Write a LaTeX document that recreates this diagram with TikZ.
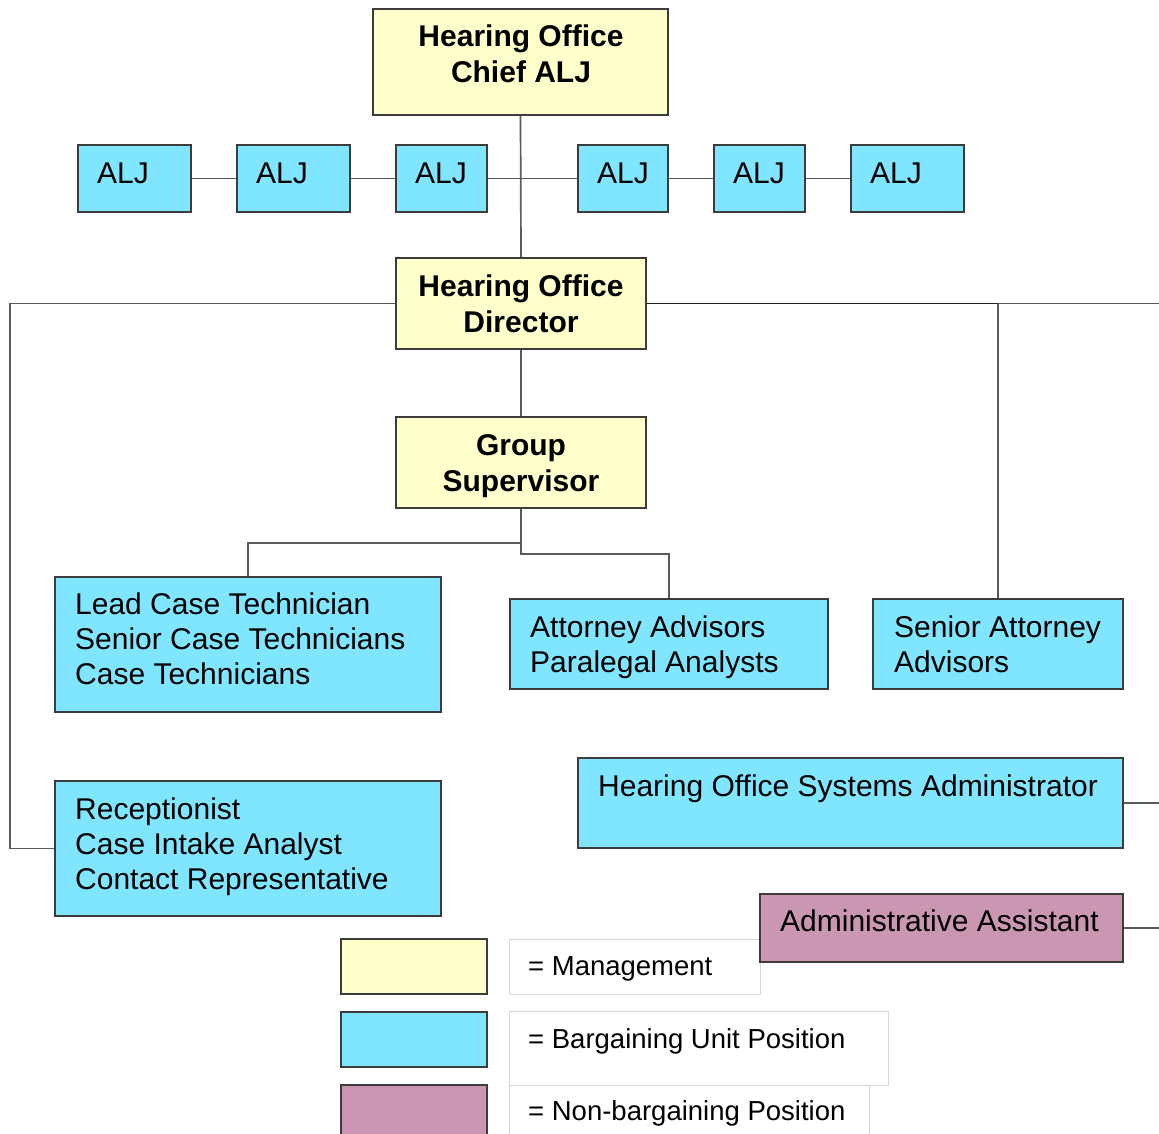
\documentclass[tikz,border=0pt]{standalone}
\usepackage{fontspec}
\setmainfont{Liberation Sans}
\definecolor{mgmtfill}{RGB}{255,255,204}
\definecolor{bufill}{RGB}{128,229,255}
\definecolor{nbfill}{RGB}{202,150,178}
\definecolor{boxline}{RGB}{60,60,60}
\definecolor{conngray}{RGB}{90,90,90}
\definecolor{conndarkc}{RGB}{30,30,30}
\definecolor{legline}{RGB}{215,215,215}
\newcommand{\mystrut}{\rule{0pt}{24pt}}
\begin{document}
\begin{tikzpicture}[x=1pt,y=-1pt,
  box/.style={draw=boxline, line width=1.6pt, inner sep=0pt},
  mgmt/.style={box, fill=mgmtfill},
  bu/.style={box, fill=bufill},
  nb/.style={box, fill=nbfill},
  legbox/.style={draw=legline, line width=1pt, fill=white, inner sep=0pt},
  conn/.style={draw=conngray, line width=1.7pt},
  conndark/.style={draw=conndarkc, line width=1.8pt},
  btxt/.style={inner sep=0pt, anchor=north, align=center, font=\fontsize{30}{36}\selectfont\bfseries},
  ntxt/.style={inner sep=0pt, anchor=north west, align=left, font=\fontsize{30}{35}\selectfont},
  ltxt/.style={inner sep=0pt, anchor=north west, align=left, font=\fontsize{27.5}{33}\selectfont}
]
\clip (0,0) rectangle (1159,1134);
\fill[white] (0,0) rectangle (1159,1134);

% legend text boxes (behind)
\node[legbox, minimum width=251pt, minimum height=55pt] (mgmtT) at (634.5,966.5) {};
\node[legbox, minimum width=379pt, minimum height=74pt] (bargT) at (698.5,1048) {};
\node[legbox, minimum width=360pt, minimum height=65pt] (nonT) at (689,1117.5) {};

% boxes
\node[mgmt, minimum width=295pt, minimum height=106pt] (chief) at (520.5,62) {};
\node[bu, minimum width=113pt, minimum height=67pt] (alj1) at (134.5,178.5) {};
\node[bu, minimum width=113pt, minimum height=67pt] (alj2) at (293.5,178.5) {};
\node[bu, minimum width=91pt, minimum height=67pt] (alj3) at (441.5,178.5) {};
\node[bu, minimum width=90pt, minimum height=67pt] (alj4) at (623,178.5) {};
\node[bu, minimum width=91pt, minimum height=67pt] (alj5) at (759.5,178.5) {};
\node[bu, minimum width=113pt, minimum height=67pt] (alj6) at (907.5,178.5) {};
\node[mgmt, minimum width=250pt, minimum height=91pt] (dir) at (521,303.5) {};
\node[mgmt, minimum width=250pt, minimum height=91pt] (gs) at (521,462.5) {};
\node[bu, minimum width=386pt, minimum height=135pt] (lead) at (248,644.5) {};
\node[bu, minimum width=318pt, minimum height=90pt] (att) at (669,644) {};
\node[bu, minimum width=250pt, minimum height=90pt] (sen) at (998,644) {};
\node[bu, minimum width=545pt, minimum height=90pt] (hosa) at (850.5,803) {};
\node[bu, minimum width=386pt, minimum height=135pt] (rec) at (248,848.5) {};
\node[nb, minimum width=363pt, minimum height=68pt] (adm) at (941.5,928) {};

% legend swatches
\node[mgmt, minimum width=146pt, minimum height=55pt] (legY) at (414,966.5) {};
\node[bu, minimum width=146pt, minimum height=55pt] (legB) at (414,1039.5) {};
\node[nb, minimum width=146pt, minimum height=60pt] (legP) at (414,1115) {};

% texts
\node[btxt] (chiefL) at (521,22) {\mystrut Hearing Office\\Chief ALJ};
\node[ntxt] (alj1L) at (97,159) {\mystrut ALJ};
\node[ntxt] (alj2L) at (256,159) {\mystrut ALJ};
\node[ntxt] (alj3L) at (415,159) {\mystrut ALJ};
\node[ntxt] (alj4L) at (597,159) {\mystrut ALJ};
\node[ntxt] (alj5L) at (733,159) {\mystrut ALJ};
\node[ntxt] (alj6L) at (870,159) {\mystrut ALJ};
\node[btxt] (dirL) at (521,272) {\mystrut Hearing Office\\Director};
\node[btxt] (gsL) at (521,431) {\mystrut Group\\Supervisor};
\node[ntxt] (leadL) at (75,590) {\mystrut Lead Case Technician\\Senior Case Technicians\\Case Technicians};
\node[ntxt] (attL) at (530,613) {\mystrut Attorney Advisors\\Paralegal Analysts};
\node[ntxt] (senL) at (894,613) {\mystrut Senior Attorney\\Advisors};
\node[ntxt] (hosaL) at (598,772) {\mystrut Hearing Office Systems Administrator};
\node[ntxt] (recL) at (75,795) {\mystrut Receptionist\\Case Intake Analyst\\Contact Representative};
\node[ntxt] (admL) at (780,907) {\mystrut Administrative Assistant};
\node[ltxt] (mgmtL) at (528,951) {\mystrut = Management};
\node[ltxt] (bargL) at (528,1024) {\mystrut = Bargaining Unit Position};
\node[ltxt] (nonL) at (528,1096) {\mystrut = Non-bargaining Position};

% connectors
\draw[conn] (chief.south) -- (dir.north);
\draw[conn] (alj1.east) -- (alj2.west);
\draw[conn] (alj2.east) -- (alj3.west);
\draw[conn] (alj3.east) -- (alj4.west);
\draw[conn] (alj4.east) -- (alj5.west);
\draw[conn] (alj5.east) -- (alj6.west);
\draw[conn] (dir.south) -- (gs.north);
\coordinate (lcorner) at (10,303.5);
\draw[conn] (dir.west) -- (lcorner) |- (rec.west);
\coordinate (rdir) at (1160,303.5);
\draw[conn] (dir.east) -- (rdir);
\draw[conn] (dir.east) -| (sen.north);
\draw[conndark] (dir.east) -- (dir.east -| sen.north);
\draw[conn] (gs.south) -- ++(0,34) -| (lead.north);
\draw[conn] (gs.south) -- ++(0,45) -| (att.north);
\coordinate (rhosa) at (1160,803);
\draw[conn] (hosa.east) -- (rhosa);
\coordinate (radm) at (1160,928);
\draw[conn] (adm.east) -- (radm);
\end{tikzpicture}
\end{document}
